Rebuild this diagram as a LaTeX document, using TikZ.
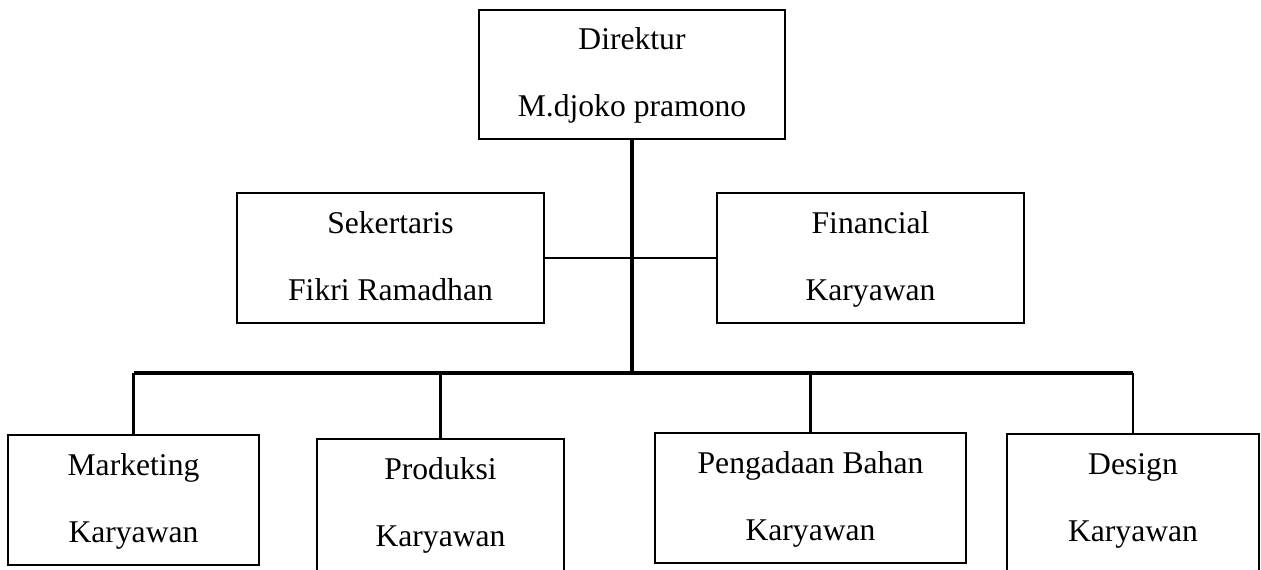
\documentclass[tikz,border=0pt]{standalone}
\usepackage{fontspec}
\setmainfont{Liberation Serif}
\begin{document}
\begin{tikzpicture}[
  jabatan/.style={draw,line width=1.3pt,inner sep=0pt,align=center,text height=2.4cm,text depth=0.3cm,
    minimum height=3.25cm,font=\fontsize{22.5}{47.5}\selectfont},
  terpotong/.style={minimum height=3.5cm,text depth=0.55cm},
  garis/.style={line width=2.4pt}]
\useasboundingbox(0,0)rectangle(31.525,14.225);
\node[jabatan,minimum width=7.65cm,minimum height=3.225cm](dir)at(15.8,12.3625){Direktur\\M.djoko pramono};
\node[jabatan,minimum width=7.675cm](sek)at(9.7625,7.775){Sekertaris\\Fikri Ramadhan};
\node[jabatan,minimum width=7.675cm](fin)at(21.7625,7.775){Financial\\Karyawan};
\node[jabatan,minimum width=6.275cm](mkt)at(3.3375,1.725){Marketing\\Karyawan};
\node[jabatan,terpotong,minimum width=6.175cm](prd)at(11.0125,1.5){Produksi\\Karyawan};
\node[jabatan,minimum width=7.775cm](pgd)at(20.2625,1.775){Pengadaan Bahan\\Karyawan};
\node[jabatan,terpotong,minimum width=6.3cm](dsg)at(28.325,1.625){Design\\Karyawan};
\coordinate(bus)at(15.8,4.9);
\draw[line width=2.8pt](dir.south)--(bus);
\draw[line width=1.4pt](sek.east)--(fin.west);
\draw[garis](mkt.north|-bus)--(dsg.north|-bus);
\foreach \n in {mkt,prd,pgd}
  \draw[garis](\n.north|-bus)--(\n.north);
\draw[line width=1.6pt](dsg.north|-bus)--(dsg.north);
\end{tikzpicture}
\end{document}
